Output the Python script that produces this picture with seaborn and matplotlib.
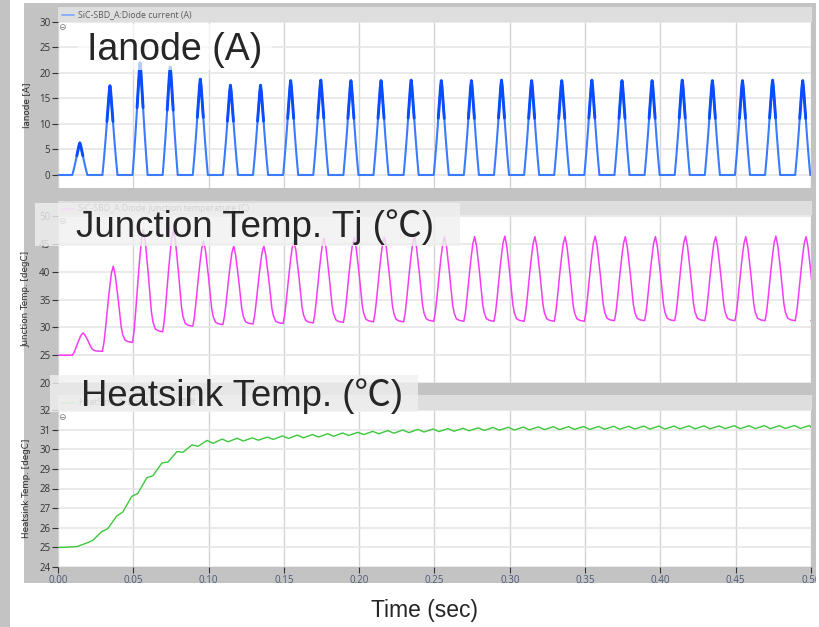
import numpy as np
import pandas as pd
import matplotlib
matplotlib.use("Agg")
import matplotlib.pyplot as plt
from matplotlib.patches import Rectangle
from matplotlib.lines import Line2D
import seaborn as sns

# ---------------- data ----------------
period = 0.02            # s, one diode pulse every 20 ms
first_pulse_start = 0.0095
pulse_width = 0.01

# diode current: peak of each of the 25 conduction pulses (A)
current_peaks = [6.3, 17.5, 22.0, 21.2, 18.8, 17.6, 17.6, 18.5, 18.6, 18.5,
                 18.5, 18.6, 18.5, 18.5, 18.6, 18.5, 18.5, 18.6, 18.5, 18.5,
                 18.6, 18.5, 18.5, 18.6, 18.5]
# normalised pulse outline read from one pulse (position in pulse, fraction of peak)
pulse_shape_pos = [0.0, 0.1, 0.2, 0.3, 0.4, 0.45, 0.5, 0.55, 0.6, 0.7, 0.8, 0.9, 1.0]
pulse_shape_val = [0.0, 0.18, 0.38, 0.6, 0.82, 0.93, 1.0, 0.93, 0.82, 0.6, 0.38, 0.18, 0.0]

# junction temperature: value at the start of each pulse and peak of each cycle (degC)
tj_base = [25.0, 25.7, 27.3, 29.2, 30.2, 30.5, 30.6, 30.7, 30.8, 30.9,
           31.0, 31.0, 31.1, 31.1, 31.1, 31.1, 31.1, 31.1, 31.2, 31.2,
           31.2, 31.2, 31.2, 31.2, 31.2, 31.2]
tj_peak = [29.0, 41.0, 47.5, 47.5, 45.5, 44.6, 44.6, 45.5, 46.0, 46.1,
           46.2, 46.3, 46.3, 46.3, 46.4, 46.3, 46.3, 46.4, 46.3, 46.3,
           46.4, 46.3, 46.3, 46.4, 46.3]
# shape of one thermal cycle (time after pulse start, fraction of swing)
tj_rise_t = [0.0, 0.001, 0.002, 0.003, 0.004, 0.005, 0.006, 0.0072]
tj_rise_f = [0.0, 0.10, 0.26, 0.44, 0.62, 0.78, 0.92, 1.0]
tj_fall_t = [0.0085, 0.0095, 0.0105, 0.0115, 0.0125, 0.0135, 0.015, 0.017]
tj_fall_f = [0.88, 0.72, 0.56, 0.38, 0.20, 0.10, 0.03, 0.01]

# heatsink temperature: low / high point of every 10 ms ripple (degC)
hs_low = [25.00, 25.05, 25.35, 25.95, 26.80, 27.75, 28.65, 29.35, 29.85, 30.15,
          30.30, 30.38, 30.42, 30.46, 30.50, 30.55, 30.58, 30.62, 30.66, 30.70,
          30.75, 30.79, 30.82, 30.85, 30.88, 30.90, 30.92, 30.94, 30.96, 30.97,
          30.98, 30.99, 31.00, 31.00, 31.01, 31.01, 31.02, 31.02, 31.03, 31.03,
          31.03, 31.04, 31.04, 31.04, 31.05, 31.05, 31.05, 31.05, 31.06, 31.06]
hs_high = [25.02, 25.22, 25.80, 26.60, 27.60, 28.55, 29.30, 29.88, 30.22, 30.45,
           30.52, 30.56, 30.58, 30.62, 30.68, 30.72, 30.75, 30.79, 30.83, 30.86,
           30.91, 30.95, 30.98, 31.01, 31.03, 31.05, 31.07, 31.09, 31.11, 31.12,
           31.13, 31.14, 31.15, 31.15, 31.16, 31.16, 31.17, 31.17, 31.18, 31.18,
           31.18, 31.19, 31.19, 31.19, 31.20, 31.20, 31.20, 31.20, 31.21, 31.21]
hs_low_offset = 0.003
hs_high_offset = 0.009
hs_step = 0.01

x_ticks = [0.00, 0.05, 0.10, 0.15, 0.20, 0.25, 0.30, 0.35, 0.40, 0.45, 0.50]
y1_ticks = [0, 5, 10, 15, 20, 25, 30]
y2_ticks = [20, 25, 30, 35, 40, 45, 50]
y3_ticks = [24, 25, 26, 27, 28, 29, 30, 31, 32]

panel_titles = ["Ianode (A)", "Junction Temp. Tj (\u2103)", "Heatsink Temp. (\u2103)"]
legend_texts = ["SiC-SBD_A:Diode current (A)",
                "SiC-SBD_A:Diode junction temperature (C)",
                "HeatSink_A:\u30d2\u30fc\u30c8\u30b7\u30f3\u30af\u6e29\u5ea6"]
y_labels = ["Ianode [A]", "Junction Temp. [degC]", "Heatsink Temp. [degC]"]
x_label = "Time (sec)"

# ---------------- build tables ----------------
rows = [(0.0, 0.0)]
dark = []
for k, pk in enumerate(current_peaks):
    s = first_pulse_start + k * period
    for p, v in zip(pulse_shape_pos, pulse_shape_val):
        rows.append((s + p * pulse_width, pk * v))
        if v >= 0.55:
            dark.append((s + p * pulse_width, pk * v, k))
rows.append((0.5, 0.0))
df_i = pd.DataFrame(rows, columns=["t", "i"])
df_id = pd.DataFrame(dark, columns=["t", "i", "pulse"])

rows = [(0.0, tj_base[0])]
for k, pk in enumerate(tj_peak):
    s = first_pulse_start + k * period
    b0, b1 = tj_base[k], tj_base[k + 1]
    for dt, f in zip(tj_rise_t, tj_rise_f):
        rows.append((s + dt, b0 + (pk - b0) * f))
    for dt, f in zip(tj_fall_t, tj_fall_f):
        rows.append((s + dt, b1 + (pk - b1) * f))
rows.append((0.5, tj_base[-1]))
df_tj = pd.DataFrame(rows, columns=["t", "tj"])

rows = [(0.0, 25.0)]
for k, (lo, hi) in enumerate(zip(hs_low, hs_high)):
    rows.append((k * hs_step + hs_low_offset, lo))
    rows.append((k * hs_step + hs_high_offset, hi))
rows.append((0.5, 31.12))
df_hs = pd.DataFrame(rows, columns=["t", "hs"])

# ---------------- figure ----------------
sns.set_style("white")
plt.rcParams["font.family"] = ["Open Sans", "DejaVu Sans"]

W, H = 820, 627
fig = plt.figure(figsize=(W / 100, H / 100), dpi=100)
fig.patch.set_facecolor("white")


def fr(x0, y0, x1, y1):
    return [x0 / W, 1 - y1 / H, (x1 - x0) / W, (y1 - y0) / H]


def rect(x0, y0, x1, y1, color, z, alpha=1.0):
    b = fr(x0, y0, x1, y1)
    fig.add_artist(Rectangle((b[0], b[1]), b[2], b[3], transform=fig.transFigure,
                             facecolor=color, edgecolor="none", zorder=z, alpha=alpha))


rect(0, 0, 10, H, "#c3c3c3", -10)
rect(24, 3, 816, 583, "#c3c3c3", -10)
for y0, y1 in [(7, 22), (201, 215), (395, 410)]:
    rect(58, y0, 812, y1, "#dedede", -9)

ax1 = fig.add_axes(fr(58, 22, 811, 188))
ax2 = fig.add_axes(fr(58, 215, 811, 383))
ax3 = fig.add_axes(fr(58, 410, 811, 567))

sns.lineplot(data=df_i, x="t", y="i", ax=ax1, color="#3a7bff", lw=1.5,
             sort=False, estimator=None)
sns.lineplot(data=df_id, x="t", y="i", units="pulse", ax=ax1, color="#0a4cff",
             lw=2.1, sort=False, estimator=None)
sns.lineplot(data=df_tj, x="t", y="tj", ax=ax2, color="#f53cf5", lw=1.1,
             sort=False, estimator=None)
sns.lineplot(data=df_hs, x="t", y="hs", ax=ax3, color="#3cc83c", lw=1.0,
             sort=False, estimator=None)

limits = [(-2.55, 30.0), (20.0, 50.2), (24.0, 32.0)]
yticks = [y1_ticks, y2_ticks, y3_ticks]
for ax, lim, yt, yl in zip([ax1, ax2, ax3], limits, yticks, y_labels):
    ax.set_xlim(0, 0.5)
    ax.set_ylim(*lim)
    ax.set_facecolor("white")
    ax.set_xticks(x_ticks)
    ax.set_yticks(yt)
    ax.set_yticklabels([str(v) for v in yt])
    ax.grid(True, axis="y", color="#e4e4e4", lw=1.1)
    ax.grid(True, axis="x", color="#d4d4d4", lw=1.0)
    for sp in ax.spines.values():
        sp.set_visible(False)
    ax.tick_params(axis="y", direction="out", length=4, width=0.8, color="#333333",
                   labelsize=7, labelcolor="#333333", pad=1.5, left=True)
    ax.set_xlabel("")
    ax.set_ylabel(yl, fontsize=6.3, color="#2a2a2a",
                  family=["Liberation Sans Narrow", "DejaVu Sans"])
    ax.yaxis.set_label_coords(-0.036, 0.5)

for ax in [ax1, ax2]:
    ax.tick_params(axis="x", bottom=False, labelbottom=False)
ax3.set_xticklabels(["%.2f" % v for v in x_ticks])
ax3.tick_params(axis="x", direction="out", length=4, width=0.8, color="#333333",
                labelsize=7, labelcolor="#4b5a78", pad=1.5, bottom=True)

# legend strips
for ytxt, txt, col in zip([14.5, 208.5, 402.5], legend_texts,
                          ["#7aa6ff", "#ff8cff", "#8ee08e"]):
    fig.add_artist(Line2D([62 / W, 74 / W], [1 - ytxt / H, 1 - ytxt / H],
                          transform=fig.transFigure, color=col, lw=1.2, zorder=2))
    fig.text(78 / W, 1 - ytxt / H, txt, fontsize=6.3, color="#5a5a5a", va="center",
             family=["Open Sans", "Noto Sans CJK JP"], zorder=2)
for yi in [27, 221, 417]:
    fig.text(62 / W, 1 - yi / H, "\u2296", fontsize=6.5, color="#777777",
             ha="center", va="center", family=["DejaVu Sans"], zorder=2)

# overlay boxes for the big titles
rect(78, 24, 272, 70, "#ffffff", 10, alpha=0.7)
rect(35, 203, 460, 246, "#f0f0f0", 10, alpha=0.8)
rect(50, 375, 418, 412, "#f0f0f0", 10, alpha=0.8)

title_fam = ["Liberation Sans", "Noto Sans CJK JP"]
for (x, yb, fs), txt in zip([(87, 60, 27), (76, 236.5, 26.5), (81, 405.5, 26.3)], panel_titles):
    fig.text(x / W, 1 - yb / H, txt, fontsize=fs, color="#262626", va="baseline",
             ha="left", family=title_fam, zorder=11)

fig.text(425 / W, 1 - 617 / H, x_label, fontsize=16.5, color="#262626",
         ha="center", va="baseline", family=["Liberation Sans", "DejaVu Sans"])

# right edge of the screenshot
rect(816, 0, W, H, "#ffffff", 20)

fig.savefig("out.png", dpi=100)
